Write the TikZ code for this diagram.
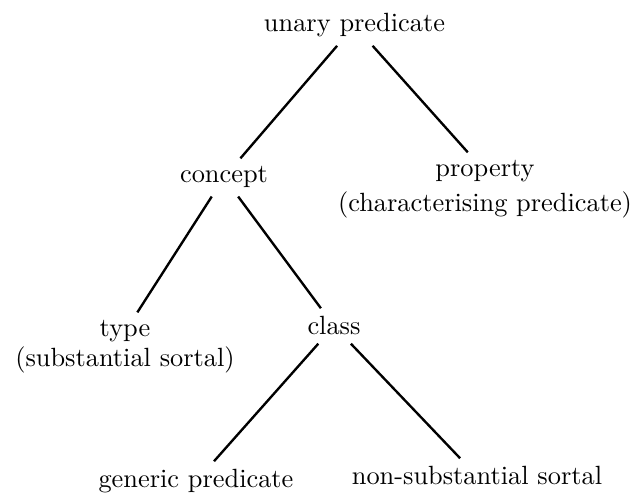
\documentclass[tikz,border=0pt]{standalone}
\begin{document}
\begin{tikzpicture}[x=0.3794pt, y=-0.3794pt,
  term/.style={anchor=base, inner sep=3pt},
  note/.style={anchor=base, inner sep=0pt},
  branch/.style={line width=0.9pt}]
\useasboundingbox (0,0) rectangle (637,497);
% tree nodes, placed on their baselines
\node[term] (up) at (354.5,32) {unary predicate};
\node[term] (concept) at (224,183) {concept};
\node[term] (prop) at (485,177) {property};
\node[note] (propnote) at (485,212) {(characterising predicate)};
\node[term] (type) at (125,337) {type};
\node[note] (typenote) at (125,367) {(substantial sortal)};
\node[term] (class) at (334,335) {class};
\node[term] (generic) at (196,488) {generic predicate};
\node[term] (nonsub) at (477,485) {non-substantial sortal};
% branches
\draw[branch] (up) -- (concept);
\draw[branch] (up) -- (prop);
\draw[branch] (concept) -- (type);
\draw[branch] (concept) -- (class);
\draw[branch] (class) -- (generic);
\draw[branch] (class) -- (nonsub);
\end{tikzpicture}
\end{document}
